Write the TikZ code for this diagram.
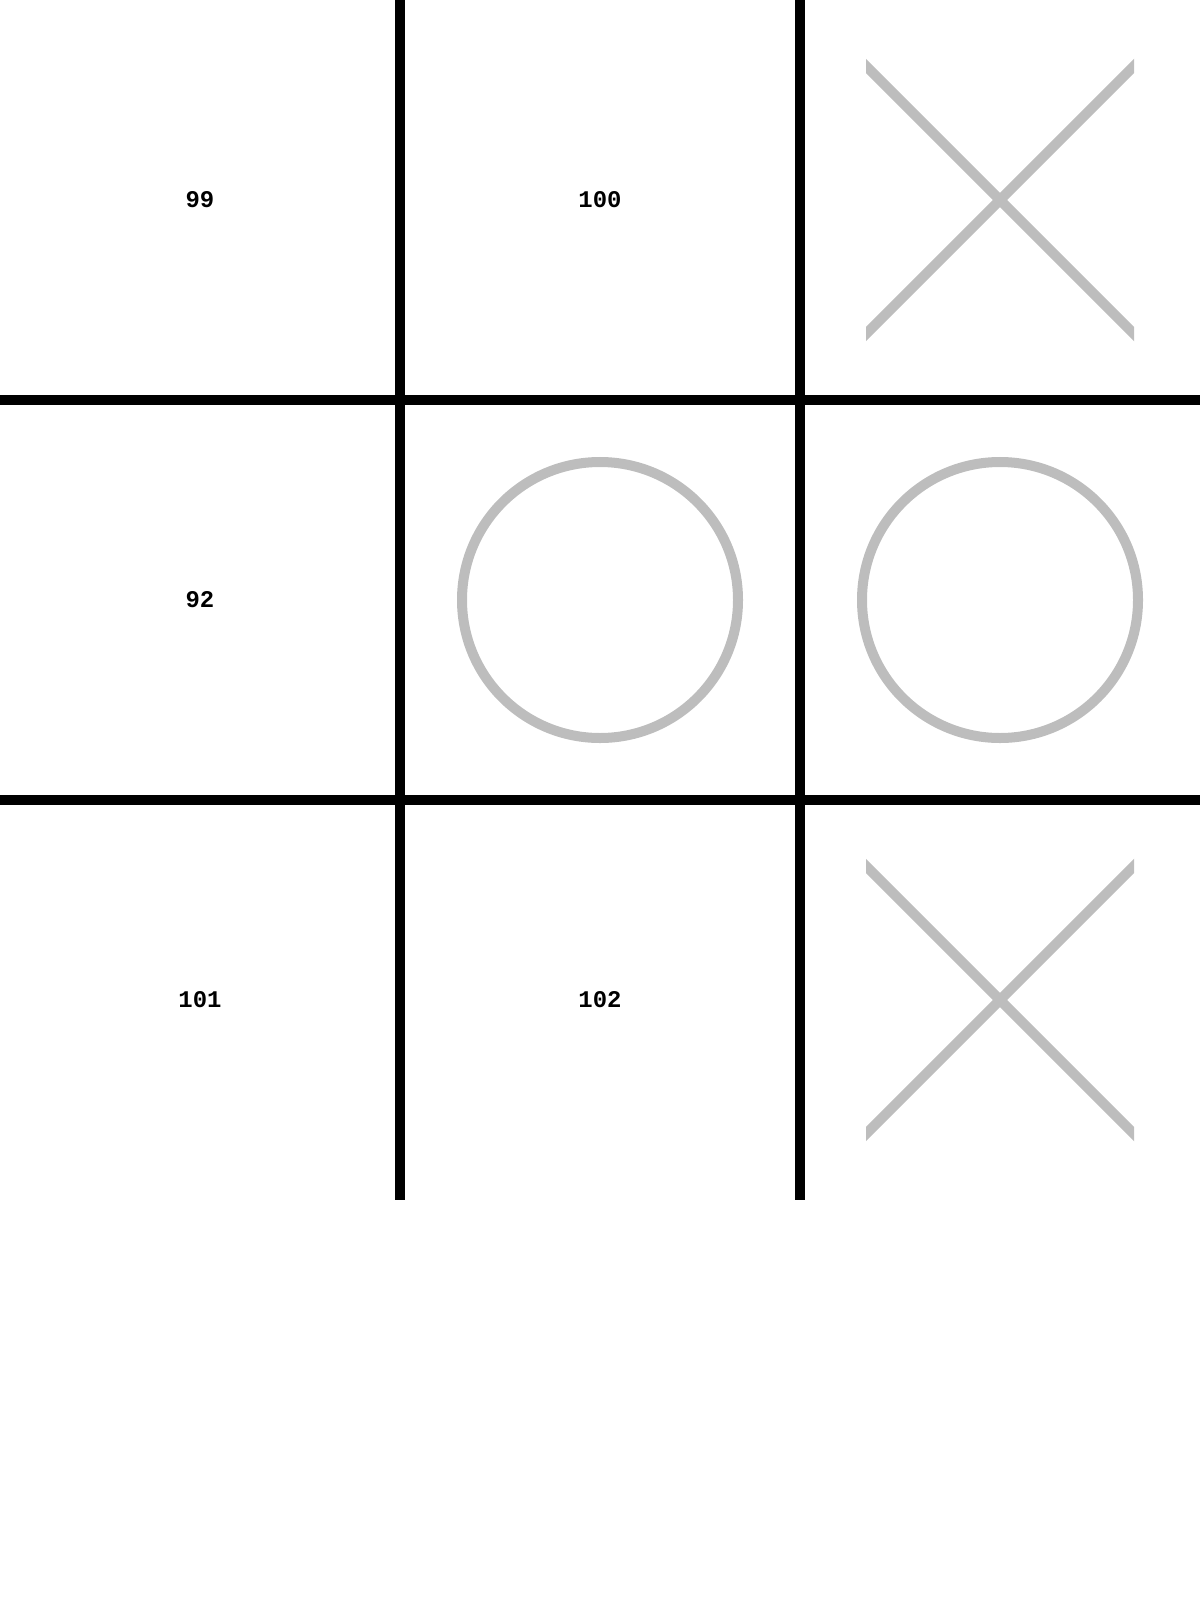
\documentclass[tikz,border=0pt]{standalone}
\usepackage{fontspec}
\setmonofont{Liberation Mono}
\usepackage{tikz}
\definecolor{piecegrey}{HTML}{BDBDBD}

\begin{document}
\begin{tikzpicture}[x=0.01cm, y=-0.01cm,
  grid/.style  = {draw=black, line width=0.1cm},
  piece/.style = {draw=piecegrey, line width=0.1cm},
  num/.style   = {font=\ttfamily\bfseries\fontsize{6.8}{8}\selectfont, inner sep=0pt}]

\useasboundingbox (0,0) rectangle (1200,1600);

% --- board ------------------------------------------------------------
\draw[grid] (400,0) -- (400,1200);
\draw[grid] (800,0) -- (800,1200);
\draw[grid] (0,400) -- (1200,400);
\draw[grid] (0,800) -- (1200,800);

% --- free cells -------------------------------------------------------
\node[num] (c11) at (200,200)  {99};
\node[num] (c12) at (600,200)  {100};
\node[num] (c21) at (200,600)  {92};
\node[num] (c31) at (200,1000) {101};
\node[num] (c32) at (600,1000) {102};

% --- noughts ----------------------------------------------------------
\draw[piece] (600,600)  circle (138);
\draw[piece] (1000,600) circle (138);

% --- crosses ----------------------------------------------------------
\foreach \cy in {200,1000} {
  \begin{scope}
    \clip (866,\cy-160) rectangle (1134,\cy+160);
    \draw[piece] (846,\cy-154) -- (1154,\cy+154);
    \draw[piece] (846,\cy+154) -- (1154,\cy-154);
  \end{scope}
}
\end{tikzpicture}
\end{document}
